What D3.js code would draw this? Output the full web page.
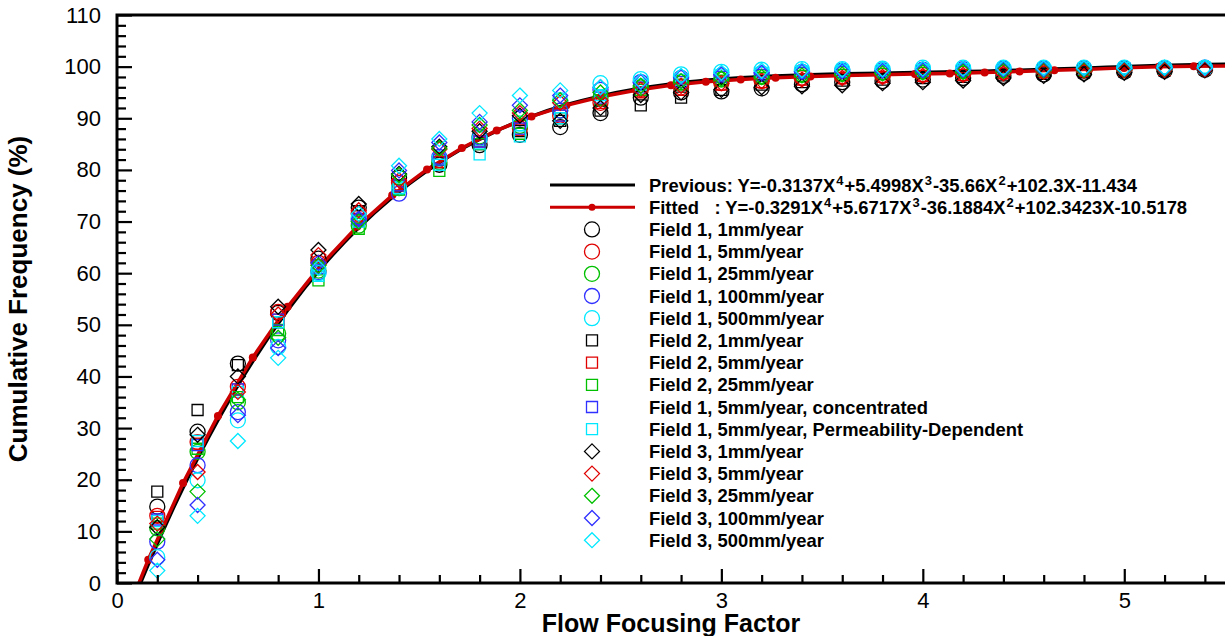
<!DOCTYPE html>
<html>
<head>
<meta charset="utf-8">
<script src="https://cdn.jsdelivr.net/npm/d3@7"></script>
<style>
body { margin: 0; background: #fff; }
svg text { font-family: "Liberation Sans", Arial, Helvetica, sans-serif; fill: #000; }
</style>
</head>
<body>
<div id="chart"></div>
<script>
// flow focusing factor at which every field / rate case was sampled
var xValues = [0.2, 0.4, 0.6, 0.8, 1.0, 1.2, 1.4, 1.6, 1.8, 2.0, 2.2, 2.4, 2.6, 2.8,
    3.0, 3.2, 3.4, 3.6, 3.8, 4.0, 4.2, 4.4, 4.6, 4.8, 5.0, 5.2, 5.4];

// cumulative frequency (%) per case
var f1_1mm    = [14.8, 29.3, 42.5, 52.3, 62.8, 72.7, 78.5, 81.0, 84.8, 86.8, 88.3, 91.0, 94.0, 95.0, 95.2, 95.8, 96.6, 97.0, 97.2, 97.5, 97.8, 98.2, 98.5, 98.8, 99.0, 99.2, 99.4];
var f1_5mm    = [13.0, 27.3, 38.0, 52.5, 62.0, 71.5, 77.5, 82.0, 86.0, 88.0, 90.5, 93.0, 95.5, 96.0, 96.8, 97.2, 97.8, 98.0, 98.2, 98.4, 98.6, 98.9, 99.1, 99.3, 99.4, 99.5, 99.6];
var f1_25mm   = [10.6, 25.4, 35.0, 48.3, 60.5, 69.2, 76.5, 81.5, 86.5, 88.5, 91.5, 94.0, 96.0, 97.0, 97.5, 98.0, 98.4, 98.6, 98.8, 99.0, 99.1, 99.3, 99.4, 99.5, 99.6, 99.6, 99.7];
var f1_100mm  = [8.0, 22.8, 33.1, 47.0, 60.2, 70.2, 75.4, 82.5, 86.3, 90.0, 91.5, 95.5, 97.0, 97.8, 98.3, 98.7, 99.0, 99.2, 99.3, 99.4, 99.5, 99.6, 99.6, 99.7, 99.7, 99.7, 99.8];
var f1_500mm  = [5.0, 19.9, 31.5, 45.7, 60.0, 70.8, 76.5, 82.2, 86.0, 89.0, 93.5, 96.8, 97.6, 98.5, 99.0, 99.4, 99.5, 99.5, 99.6, 99.8, 99.8, 99.8, 99.8, 99.8, 99.8, 99.8, 99.8];
var f2_1mm    = [17.7, 33.5, 42.2, 50.5, 61.5, 72.0, 77.0, 81.5, 85.0, 87.5, 89.5, 91.5, 92.5, 94.0, 95.5, 96.5, 97.0, 97.3, 97.5, 97.8, 98.0, 98.3, 98.6, 98.9, 99.1, 99.3, 99.5];
var f2_5mm    = [12.8, 27.0, 37.5, 51.0, 61.5, 71.0, 77.0, 81.5, 85.5, 87.8, 90.5, 93.0, 95.0, 95.5, 96.5, 97.0, 97.5, 97.8, 98.0, 98.2, 98.4, 98.7, 99.0, 99.2, 99.3, 99.4, 99.6];
var f2_25mm   = [11.5, 26.0, 36.0, 49.0, 58.6, 68.6, 76.2, 79.8, 85.0, 87.0, 90.0, 93.5, 95.5, 96.5, 97.3, 97.8, 98.2, 98.4, 98.6, 98.8, 99.0, 99.1, 99.3, 99.4, 99.5, 99.6, 99.7];
var f1_5conc  = [12.3, 26.7, 37.5, 51.0, 61.0, 70.5, 77.0, 82.0, 85.5, 88.0, 90.5, 94.0, 96.0, 97.0, 98.0, 98.4, 98.8, 99.0, 99.1, 99.2, 99.3, 99.4, 99.5, 99.6, 99.6, 99.7, 99.7];
var f1_5perm  = [12.0, 27.5, 37.0, 50.5, 59.5, 70.0, 76.5, 81.0, 83.0, 86.5, 90.0, 94.5, 96.5, 97.5, 98.3, 98.8, 99.1, 99.2, 99.3, 99.4, 99.5, 99.6, 99.6, 99.7, 99.7, 99.7, 99.8];
var f3_1mm    = [10.8, 28.7, 40.0, 53.5, 64.5, 73.4, 79.2, 84.5, 87.5, 90.5, 89.5, 92.0, 94.5, 95.0, 95.5, 96.0, 96.2, 96.4, 96.8, 97.0, 97.3, 97.8, 98.2, 98.5, 98.8, 99.0, 99.3];
var f3_5mm    = [11.5, 21.5, 37.0, 52.0, 63.5, 72.2, 78.0, 84.0, 88.0, 91.0, 93.0, 93.5, 95.5, 96.3, 96.8, 97.2, 97.5, 97.8, 98.0, 98.2, 98.4, 98.7, 99.0, 99.2, 99.3, 99.4, 99.5];
var f3_25mm   = [8.5, 17.7, 35.5, 47.5, 61.5, 70.0, 79.0, 84.2, 88.7, 91.5, 93.5, 95.0, 96.3, 97.2, 97.7, 98.0, 98.3, 98.5, 98.7, 98.9, 99.0, 99.2, 99.3, 99.4, 99.5, 99.6, 99.7];
var f3_100mm  = [4.5, 15.1, 32.5, 45.5, 62.0, 70.5, 79.9, 85.3, 89.3, 92.5, 94.4, 96.0, 97.0, 98.0, 98.5, 98.8, 99.0, 99.1, 99.2, 99.3, 99.4, 99.5, 99.5, 99.6, 99.6, 99.7, 99.7];
var f3_500mm  = [2.4, 13.0, 27.5, 43.6, 61.0, 71.5, 80.8, 86.0, 91.0, 94.4, 95.4, 96.0, 97.2, 98.2, 98.8, 99.2, 99.3, 99.4, 99.5, 99.6, 99.6, 99.7, 99.7, 99.7, 99.7, 99.8, 99.8];

var seriesNames = ["Field 1, 1mm/year", "Field 1, 5mm/year", "Field 1, 25mm/year", "Field 1, 100mm/year",
    "Field 1, 500mm/year", "Field 2, 1mm/year", "Field 2, 5mm/year", "Field 2, 25mm/year",
    "Field 1, 5mm/year, concentrated", "Field 1, 5mm/year, Permeability-Dependent",
    "Field 3, 1mm/year", "Field 3, 5mm/year", "Field 3, 25mm/year", "Field 3, 100mm/year", "Field 3, 500mm/year"];
var seriesValues = [f1_1mm, f1_5mm, f1_25mm, f1_100mm, f1_500mm, f2_1mm, f2_5mm, f2_25mm,
    f1_5conc, f1_5perm, f3_1mm, f3_5mm, f3_25mm, f3_100mm, f3_500mm];

// the two polynomial curves, tabulated at the fitted-curve symbol positions
var curveX    = [-0.018, 0.155, 0.328, 0.501, 0.674, 0.847, 1.020, 1.193, 1.366, 1.539, 1.712, 1.885, 2.058, 2.231, 2.404, 2.577, 2.750,
    2.923, 3.096, 3.269, 3.442, 3.615, 3.788, 3.961, 4.134, 4.307, 4.480, 4.653, 4.826, 4.999, 5.172, 5.345, 5.518];
var fittedY   = [-12.37, 4.50, 19.35, 32.36, 43.69, 53.48, 61.88, 69.03, 75.07, 80.10, 84.26, 87.64, 90.36, 92.51, 94.18, 95.44, 96.38,
    97.06, 97.53, 97.87, 98.10, 98.27, 98.41, 98.55, 98.69, 98.86, 99.07, 99.29, 99.51, 99.76, 99.97, 100.08, 100.15];
var previousY = [-13.29, 3.59, 18.47, 31.54, 42.94, 52.81, 61.31, 68.56, 74.69, 79.83, 84.09, 87.57, 90.38, 92.61, 94.34, 95.66, 96.65,
    97.36, 97.87, 98.21, 98.45, 98.62, 98.74, 98.86, 98.99, 99.13, 99.31, 99.52, 99.74, 99.98, 100.20, 100.38, 100.48];

var xMajor = [0, 1, 2, 3, 4, 5];
var yMajor = [0, 10, 20, 30, 40, 50, 60, 70, 80, 90, 100, 110];

// ---------------------------------------------------------------
var width = 1225, height = 636;
var plotLeft = 117, plotTop = 15, plotBottom = 583;

var colors = ["#000000", "#e00000", "#00c000", "#3030ff", "#00e8ff"];
var seriesColor = function(i) { return colors[i < 10 ? i % 5 : i - 10]; };
var seriesShape = function(i) { return i < 5 ? "circle" : (i < 10 ? "square" : "diamond"); };

var svg = d3.select("#chart")
    .append("svg")
    .attr("width", width)
    .attr("height", height);

var x = d3.scaleLinear().domain([0, 5.5]).range([plotLeft, width]);
var y = d3.scaleLinear().domain([0, 110]).range([plotBottom, plotTop]);

svg.append("clipPath")
    .attr("id", "plotclip")
    .append("rect")
    .attr("x", plotLeft).attr("y", plotTop)
    .attr("width", width - plotLeft).attr("height", plotBottom - plotTop);

// marker outline as a path string
function markerPath(shape, cx, cy) {
    var p = d3.path();
    if (shape == "circle") {
        p.moveTo(cx + 7.5, cy);
        p.arc(cx, cy, 7.5, 0, 2 * Math.PI);
    } else if (shape == "square") {
        p.rect(cx - 5.5, cy - 5.5, 11, 11);
    } else {
        p.moveTo(cx, cy - 7.5);
        p.lineTo(cx + 7.5, cy);
        p.lineTo(cx, cy + 7.5);
        p.lineTo(cx - 7.5, cy);
        p.closePath();
    }
    return p.toString();
}

var plot = svg.append("g").attr("clip-path", "url(#plotclip)");

// curves
var prevPts = curveX.map(function(d, i) { return [d, previousY[i]]; });
var fitPts = curveX.map(function(d, i) { return [d, fittedY[i]]; });

var smooth = d3.line()
    .x(function(d) { return x(d[0]); })
    .y(function(d) { return y(d[1]); })
    .curve(d3.curveCatmullRom);
var straight = d3.line()
    .x(function(d) { return x(d[0]); })
    .y(function(d) { return y(d[1]); });

plot.append("path")
    .attr("d", smooth(prevPts))
    .attr("fill", "none")
    .attr("stroke", "#000")
    .attr("stroke-width", 3.5);

plot.append("path")
    .attr("d", straight(fitPts))
    .attr("fill", "none")
    .attr("stroke", "#cc0000")
    .attr("stroke-width", 3.5);

plot.selectAll("circle.fitdot")
    .data(fitPts)
    .enter().append("circle")
    .attr("class", "fitdot")
    .attr("cx", function(d) { return x(d[0]); })
    .attr("cy", function(d) { return y(d[1]); })
    .attr("r", 4)
    .attr("fill", "#cc0000");

// scatter markers
seriesValues.forEach(function(vals, si) {
    plot.append("g")
        .selectAll("path")
        .data(vals)
        .enter().append("path")
        .attr("d", function(d, i) { return markerPath(seriesShape(si), x(xValues[i]), y(d)); })
        .attr("fill", "none")
        .attr("stroke", seriesColor(si))
        .attr("stroke-width", 1.3);
});

// axes: major + minor ticks pointing inward
svg.append("g")
    .attr("transform", "translate(0," + plotBottom + ")")
    .call(d3.axisBottom(x).tickValues(xMajor).tickSize(-14).tickPadding(9).tickFormat(d3.format("d")));
svg.append("g")
    .attr("transform", "translate(0," + plotBottom + ")")
    .call(d3.axisBottom(x).tickValues(d3.range(0, 5.5, 0.2).filter(function(v) { return Math.abs(v - Math.round(v)) > 0.01; }))
        .tickSize(-8).tickFormat(""));
svg.append("g")
    .attr("transform", "translate(" + plotLeft + ",0)")
    .call(d3.axisLeft(y).tickValues(yMajor).tickSize(-15).tickPadding(16).tickFormat(d3.format("d")));
svg.append("g")
    .attr("transform", "translate(" + plotLeft + ",0)")
    .call(d3.axisLeft(y).tickValues(d3.range(2, 110, 2).filter(function(v) { return v % 10 != 0; }))
        .tickSize(-9).tickFormat(""));

svg.selectAll(".domain").remove();
svg.selectAll(".tick line").attr("stroke", "#000").attr("stroke-width", 2.2);
svg.selectAll(".tick text").style("font-size", "22px").attr("fill", "#000");

// frame (right side runs off the page)
svg.append("path")
    .attr("d", "M" + (width + 5) + "," + plotTop + "H" + plotLeft + "V" + plotBottom + "H" + (width + 5))
    .attr("fill", "none")
    .attr("stroke", "#000")
    .attr("stroke-width", 3);

// axis titles
svg.append("text")
    .attr("x", (plotLeft + width) / 2)
    .attr("y", 632)
    .attr("text-anchor", "middle")
    .style("font-size", "25px")
    .style("font-weight", "bold")
    .text("Flow Focusing Factor");

svg.append("text")
    .attr("transform", "translate(27," + (plotTop + plotBottom) / 2 + ") rotate(-90)")
    .attr("text-anchor", "middle")
    .style("font-size", "26px")
    .style("font-weight", "bold")
    .text("Cumulative Frequency (%)");

// legend
var legX = 592, legText = 649, legY = 185, legStep = 22.2;
var legend = svg.append("g").style("font-size", "18.4px").style("font-weight", "bold");

// equation label with superscript powers
function eqText(g, yy, parts) {
    var t = g.append("text")
        .attr("x", legText).attr("y", yy + 6.5)
        .style("white-space", "pre");
    var raised = false;
    parts.forEach(function(s) {
        if (s.sup) {
            t.append("tspan").attr("dx", 1).attr("dy", -7).style("font-size", "13px").text(s.sup);
            raised = true;
        } else {
            var ts = t.append("tspan").text(s.t);
            if (raised) ts.attr("dy", 7).attr("dx", 1);
            raised = false;
        }
    });
}

legend.append("line")
    .attr("x1", 550).attr("x2", 635).attr("y1", legY).attr("y2", legY)
    .attr("stroke", "#000").attr("stroke-width", 3);
eqText(legend, legY, [{t: "Previous: Y=-0.3137X"}, {sup: "4"}, {t: "+5.4998X"}, {sup: "3"},
    {t: "-35.66X"}, {sup: "2"}, {t: "+102.3X-11.434"}]);

legend.append("line")
    .attr("x1", 550).attr("x2", 635).attr("y1", legY + legStep).attr("y2", legY + legStep)
    .attr("stroke", "#cc0000").attr("stroke-width", 3);
legend.append("circle")
    .attr("cx", legX).attr("cy", legY + legStep).attr("r", 3.5).attr("fill", "#cc0000");
eqText(legend, legY + legStep, [{t: "Fitted   : Y=-0.3291X"}, {sup: "4"}, {t: "+5.6717X"}, {sup: "3"},
    {t: "-36.1884X"}, {sup: "2"}, {t: "+102.3423X-10.5178"}]);

seriesNames.forEach(function(name, i) {
    var yy = legY + legStep * (i + 2);
    legend.append("path")
        .attr("d", markerPath(seriesShape(i), legX, yy))
        .attr("fill", "none")
        .attr("stroke", seriesColor(i))
        .attr("stroke-width", 1.3);
    legend.append("text")
        .attr("x", legText).attr("y", yy + 6.5)
        .text(name);
});
</script>
</body>
</html>
